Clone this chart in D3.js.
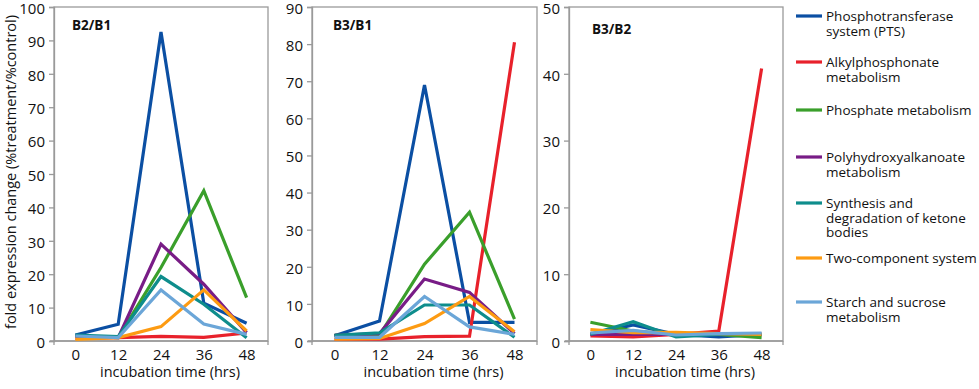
<!DOCTYPE html>
<html>
<head>
<meta charset="utf-8">
<script src="https://cdn.jsdelivr.net/npm/d3@7"></script>
<style>
  body { margin: 0; background: #fff; }
  svg { display: block; font-family: "Open Sans", sans-serif; }
</style>
</head>
<body>
<svg id="chart" width="979" height="389"></svg>
<script>
// incubation times (x categories)
const hours = ["0", "12", "24", "36", "48"];

const seriesNames = [
  ["Phosphotransferase", "system (PTS)"],
  ["Alkylphosphonate", "metabolism"],
  ["Phosphate metabolism"],
  ["Polyhydroxyalkanoate", "metabolism"],
  ["Synthesis and", "degradation of ketone", "bodies"],
  ["Two-component system"],
  ["Starch and sucrose", "metabolism"]
];

const colors = ["#0b4fa3", "#e8212b", "#3a9f2b", "#781c86", "#0e8d8c", "#fd9b12", "#6ba6d8"];

// fold change values, one row per series (same order as seriesNames)
const b2b1 = [
  [1.8, 5.0, 92.5, 11.3, 5.3],
  [0.8, 1.0, 1.4, 1.1, 2.4],
  [1.5, 1.0, 22.0, 45.0, 13.0],
  [1.5, 1.0, 29.0, 17.0, 2.5],
  [1.8, 1.3, 19.3, 11.0, 1.0],
  [0.5, 1.0, 4.3, 15.3, 3.0],
  [1.5, 1.0, 15.3, 5.1, 2.0]
];

const b3b1 = [
  [1.4, 5.4, 69.0, 5.0, 5.0],
  [0.5, 0.5, 1.2, 1.3, 80.5],
  [1.5, 1.5, 20.7, 34.7, 5.9],
  [1.5, 2.0, 16.7, 13.1, 2.0],
  [1.5, 2.2, 9.7, 9.7, 1.0],
  [0.5, 0.7, 4.7, 12.0, 2.5],
  [1.0, 1.0, 12.0, 3.8, 1.8]
];

const b3b2 = [
  [1.0, 2.4, 1.0, 0.6, 1.0],
  [0.75, 0.6, 1.0, 1.5, 40.8],
  [2.8, 1.5, 1.0, 1.0, 0.5],
  [1.0, 1.0, 1.0, 1.0, 1.0],
  [1.0, 2.9, 0.6, 1.0, 1.0],
  [1.7, 1.25, 1.3, 1.1, 1.0],
  [1.2, 1.6, 0.9, 1.1, 1.2]
];

const panels = [
  {title: "B2/B1", data: b2b1, max: 100, left: 54, right: 268, titleX: 72, titleY: 30},
  {title: "B3/B1", data: b3b1, max: 90, left: 312, right: 537, titleX: 333, titleY: 30},
  {title: "B3/B2", data: b3b2, max: 50, left: 569, right: 783, titleX: 592, titleY: 34}
];

const svg = d3.select("#chart");
const plotTop = 7, plotBottom = 341;
const axisColor = "#9a9a9a";

panels.forEach(p => {
  const x = d3.scalePoint().domain(hours).range([p.left, p.right]).padding(0.5);
  const y = d3.scaleLinear().domain([0, p.max]).range([plotBottom, plotTop]);
  const g = svg.append("g");

  // frame
  g.append("rect")
    .attr("x", p.left).attr("y", plotTop)
    .attr("width", p.right - p.left).attr("height", plotBottom - plotTop)
    .attr("fill", "none").attr("stroke", axisColor).attr("stroke-width", 1.3);

  // y axis
  const yAxis = g.append("g")
    .attr("transform", `translate(${p.left},0)`)
    .call(d3.axisLeft(y).tickValues(d3.range(0, p.max + 1, 10)).tickSize(5).tickPadding(4));
  yAxis.select(".domain").attr("stroke", axisColor).attr("stroke-width", 1.3);
  yAxis.selectAll(".tick line").attr("stroke", axisColor).attr("stroke-width", 1.3);
  yAxis.selectAll(".tick text").attr("font-size", 15).attr("fill", "#111")
    .attr("dy", "0.42em")
    .attr("font-family", "'Open Sans', sans-serif");

  // x axis
  const xAxis = g.append("g")
    .attr("transform", `translate(0,${plotBottom})`)
    .call(d3.axisBottom(x).tickSize(0).tickPadding(8));
  xAxis.select(".domain").attr("stroke", axisColor).attr("stroke-width", 1.3)
    .attr("d", `M${p.left - 4},0H${p.right}`);
  xAxis.selectAll(".tick text").attr("font-size", 15).attr("fill", "#111")
    .attr("font-family", "'Open Sans', sans-serif");
  [p.left, p.right].forEach(px => {
    g.append("line").attr("x1", px).attr("x2", px)
      .attr("y1", plotBottom).attr("y2", plotBottom + 4)
      .attr("stroke", axisColor).attr("stroke-width", 1.3);
  });

  g.append("text")
    .attr("x", (p.left + p.right) / 2 + 9).attr("y", 377)
    .attr("text-anchor", "middle").attr("font-size", 14.5).attr("fill", "#111")
    .text("incubation time (hrs)");

  g.append("text")
    .attr("x", p.titleX).attr("y", p.titleY)
    .attr("font-size", 13.5).attr("font-weight", "bold").attr("fill", "#111")
    .text(p.title);

  const line = d3.line()
    .x((d, i) => x(hours[i]))
    .y(d => y(d));

  p.data.forEach((vals, si) => {
    g.append("path")
      .datum(vals)
      .attr("d", line)
      .attr("fill", "none")
      .attr("stroke", colors[si])
      .attr("stroke-width", 3.2)
      .attr("stroke-linejoin", "miter");
  });
});

// y axis title
svg.append("text")
  .attr("transform", "translate(16,172) rotate(-90)")
  .attr("text-anchor", "middle").attr("font-size", 14.5).attr("fill", "#111")
  .text("fold expression change (%treatment/%control)");

// legend
const legendY = [16, 62, 110, 157, 203, 258, 302];
const legend = svg.append("g");
seriesNames.forEach((lines, i) => {
  const ly = legendY[i];
  legend.append("line")
    .attr("x1", 796).attr("x2", 822).attr("y1", ly).attr("y2", ly)
    .attr("stroke", colors[i]).attr("stroke-width", 3.2);
  const t = legend.append("text")
    .attr("x", 826).attr("y", ly + 5)
    .attr("font-size", 13.5).attr("fill", "#111");
  lines.forEach((s, k) => {
    t.append("tspan").attr("x", 826).attr("dy", k === 0 ? 0 : 14.5).text(s);
  });
});
</script>
</body>
</html>
